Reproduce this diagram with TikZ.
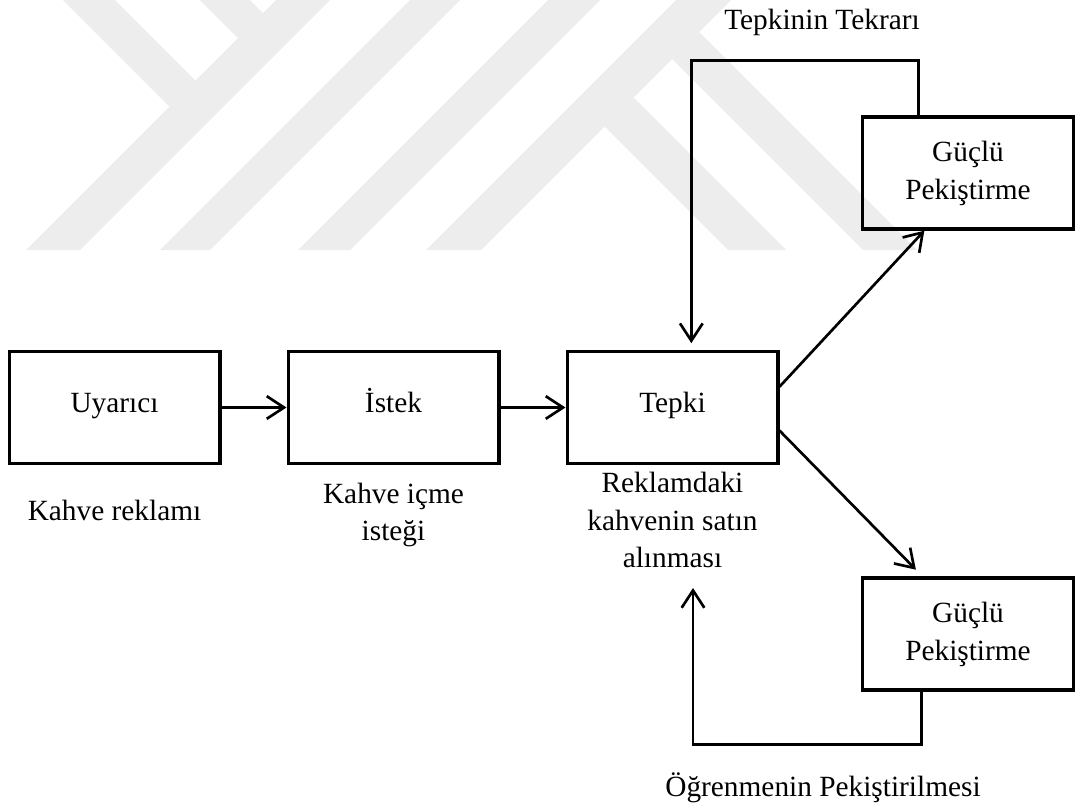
\documentclass[tikz,border=0pt]{standalone}
\usepackage{fontspec}
\setmainfont{Liberation Serif}
\usetikzlibrary{arrows.meta,calc}

\begin{document}
\begin{tikzpicture}[x=0.75pt, y=-0.75pt,
    kutu/.style={draw, line width=2.5pt, minimum width=158pt, minimum height=84pt, align=center, font=\fontsize{22}{28.5}\selectfont},
    tek/.style={text height=0.88em, text depth=0.18em},
    yazi/.style={align=center, font=\fontsize{22}{28}\selectfont},
    ok/.style={line width=2pt, -{Straight Barb[length=13pt, width=17pt]}},
    filigran/.style={fill=black!7}]
    \useasboundingbox (0,0) rectangle (1075,811);

    % Filigran
    \fill[filigran] (63,0) -- (115,0) -- (195.5,80.5) -- (169.5,106.5) -- cycle;
    \fill[filigran] (276,0) -- (330,0) -- (80,250) -- (26,250) -- cycle;
    \fill[filigran] (200,0) -- (250,0) -- (263,13) -- (238,38) -- cycle;
    \fill[filigran] (410,0) -- (460,0) -- (210,250) -- (160,250) -- cycle;
    \fill[filigran] (548,0) -- (600,0) -- (350,250) -- (298,250) -- cycle;
    \fill[filigran] (676,0) -- (731,0) -- (481,250) -- (426,250) -- cycle;
    \fill[filigran] (604.5,126.5) -- (633.5,97.5) -- (786,250) -- (728,250) -- cycle;
    \fill[filigran] (672,59) -- (699,32) -- (917,250) -- (863,250) -- cycle;

    % Kutular
    \node[kutu, tek] (uyarici) at (114.5,407.5) {Uyarıcı};
    \node[kutu, tek] (istek) at (393.5,407.5) {İstek};
    \node[kutu, tek] (tepki) at (672.5,407.5) {Tepki};
    \node[kutu] (guclu1) at (968,173) {Güçlü\\Pekiştirme};
    \node[kutu] (guclu2) at (968,634) {Güçlü\\Pekiştirme};

    % Etiketler
    \node[yazi] (reklam) at (114.5,510) {Kahve reklamı};
    \node[yazi] (icme) at (393.5,515) {Kahve içme\\isteği};
    \node[yazi] (satin) at (672.5,520) {Reklamdaki\\kahvenin satın\\alınması};
    \node[yazi] (tekrar) at (822,22) {Tepkinin Tekrarı};
    \node[yazi] (ogrenme) at (823,788) {Öğrenmenin Pekiştirilmesi};

    % Oklar
    \draw[ok] (uyarici) -- (istek);
    \draw[ok] (istek) -- (tepki);
    \draw[ok] ($(tepki.north east)!0.32!(tepki.south east)$) -- ($(guclu1.south west)!0.296!(guclu1.south east)$);
    \draw[ok, shorten >=7pt] ($(tepki.north east)!0.7!(tepki.south east)$) -- ($(guclu2.north west)!0.287!(guclu2.north east)$);

    % Geri besleme
    \draw[ok, shorten >=5pt] ($(guclu1.north west)!0.268!(guclu1.north east)$) -- ++(0,-55) -| ($(tepki.north west)!0.588!(tepki.north east)$);
    \coordinate (donus) at (693,588);
    \draw[ok] ($(guclu2.south west)!0.282!(guclu2.south east)$) -- ++(0,53) -| (donus);

\end{tikzpicture}
\end{document}
